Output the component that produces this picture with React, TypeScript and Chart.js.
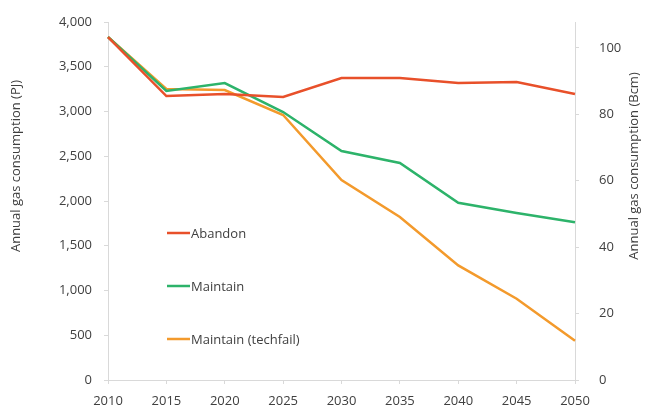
import React, { useEffect, useRef } from "react";
import { Chart, registerables } from "chart.js";

Chart.register(...registerables);

const years = ["2010", "2015", "2020", "2025", "2030", "2035", "2040", "2045", "2050"];
const abandon = [3832, 3173, 3196, 3162, 3374, 3374, 3318, 3330, 3196];
const maintain = [3832, 3229, 3318, 2994, 2559, 2425, 1980, 1866, 1762];
const maintainTechfail = [3832, 3251, 3240, 2961, 2235, 1821, 1280, 908, 438];
const seriesNames = ["Abandon", "Maintain", "Maintain (techfail)"];
const seriesColors = ["#E8502A", "#2DB36A", "#F39A2C"];
const leftTitle = "Annual gas consumption (PJ)";
const rightTitle = "Annual gas consumption (Bcm)";
const pjPerBcm = 37.1;
const leftMax = 4000;

const FONT = "'Open Sans', 'Liberation Sans', sans-serif";
const TEXT = "#404040";
const AXIS = "#D9D9D9";

const overlay = {
  id: "overlay",
  afterDraw(chart: any) {
    const ctx = chart.ctx;
    const a = chart.chartArea;
    ctx.save();
    ctx.fillStyle = TEXT;
    ctx.font = `13px ${FONT}`;
    ctx.textAlign = "center";
    ctx.textBaseline = "middle";
    const cy = 166;
    ctx.save();
    ctx.translate(16, cy);
    ctx.rotate(-Math.PI / 2);
    ctx.fillText(leftTitle, 0, 0);
    ctx.restore();
    ctx.save();
    ctx.translate(634, cy);
    ctx.rotate(-Math.PI / 2);
    ctx.fillText(rightTitle, 0, 0);
    ctx.restore();
    // legend inside plot
    const lx = a.left + 59;
    const ys = [233, 286, 339];
    ctx.font = `13px ${FONT}`;
    ctx.textAlign = "left";
    seriesNames.forEach((n, i) => {
      ctx.strokeStyle = seriesColors[i];
      ctx.lineWidth = 2.5;
      ctx.beginPath();
      ctx.moveTo(lx, ys[i]);
      ctx.lineTo(lx + 23, ys[i]);
      ctx.stroke();
      ctx.fillStyle = TEXT;
      ctx.fillText(n, lx + 24, ys[i] + 1);
    });
    ctx.restore();
  },
};

export default function App() {
  const ref = useRef<HTMLCanvasElement>(null);
  useEffect(() => {
    if (!ref.current) return;
    const datasets = [abandon, maintain, maintainTechfail].map((d, i) => ({
      label: seriesNames[i],
      data: d,
      borderColor: seriesColors[i],
      backgroundColor: seriesColors[i],
      borderWidth: 2.5,
      pointRadius: 0,
      tension: 0,
      yAxisID: "y",
    }));
    const tickFont = { family: FONT, size: 13 };
    const chart = new Chart(ref.current, {
      type: "line",
      data: { labels: years, datasets },
      plugins: [overlay],
      options: {
        animation: false,
        responsive: false,
        maintainAspectRatio: false,
        layout: { padding: { top: 22, left: 0, right: 0, bottom: 0 } },
        plugins: { legend: { display: false }, tooltip: { enabled: false } },
        scales: {
          x: {
            type: "category",
            offset: false,
            grid: { drawOnChartArea: false, drawTicks: true, tickLength: 4, color: AXIS },
            border: { display: true, color: AXIS },
            ticks: { color: TEXT, font: tickFont, padding: 9, maxRotation: 0, autoSkip: false },
            afterFit: (s: any) => { s.height = 27; },
          },
          y: {
            position: "left",
            min: 0,
            max: leftMax,
            grid: { drawOnChartArea: false, drawTicks: true, tickLength: 4, color: AXIS },
            border: { display: true, color: AXIS },
            ticks: {
              stepSize: 500,
              color: TEXT,
              font: tickFont,
              padding: 12,
              callback: (v: any) => Number(v).toLocaleString("en-US"),
            },
            afterFit: (s: any) => { s.width = 108; s.paddingTop = 0; s.paddingBottom = 0; },
          },
          y2: {
            position: "right",
            min: 0,
            max: leftMax / pjPerBcm,
            grid: { drawOnChartArea: false, drawTicks: true, tickLength: 4, color: AXIS },
            border: { display: true, color: AXIS },
            ticks: { stepSize: 20, includeBounds: false, color: TEXT, font: tickFont, padding: 20 },
            afterFit: (s: any) => { s.width = 74; s.paddingTop = 0; s.paddingBottom = 0; },
          },
        },
      },
    } as any);
    return () => chart.destroy();
  }, []);
  return (
    <div style={{ position: "absolute", left: 0, top: 0, width: 649, height: 407, background: "#fff" }}>
      <canvas ref={ref} width={649} height={407} style={{ width: 649, height: 407 }} />
    </div>
  );
}
